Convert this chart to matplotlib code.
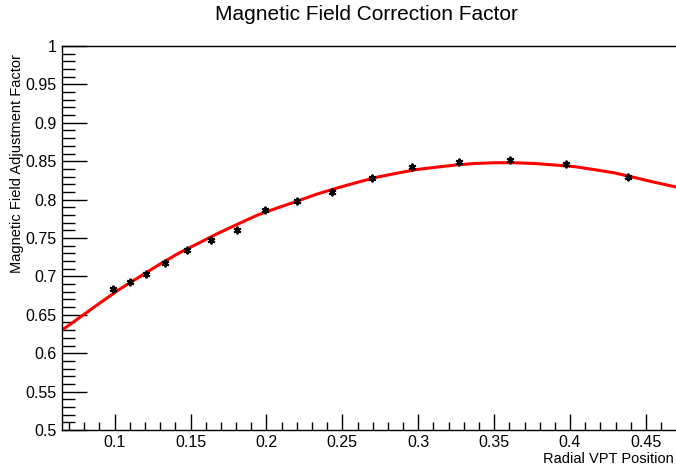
import numpy as np
import matplotlib.pyplot as plt
from matplotlib.ticker import MultipleLocator

plt.rcParams['font.family'] = ['Liberation Sans', 'DejaVu Sans']

# measured points
radial_pos = [0.0987, 0.1099, 0.1208, 0.1333, 0.1476, 0.1633, 0.1807, 0.1992,
              0.2201, 0.2430, 0.2693, 0.2961, 0.3269, 0.3602, 0.3972, 0.4383]
adj_factor = [0.683, 0.693, 0.703, 0.717, 0.735, 0.748, 0.761, 0.786,
              0.798, 0.810, 0.828, 0.842, 0.849, 0.852, 0.846, 0.829]

# fitted curve as drawn
fit_x = [0.0653, 0.078, 0.090, 0.103, 0.116, 0.129, 0.142, 0.155, 0.168,
         0.181, 0.1943, 0.207, 0.2203, 0.233, 0.2464, 0.259, 0.2724, 0.285,
         0.2985, 0.311, 0.3245, 0.337, 0.3506, 0.363, 0.3766, 0.390, 0.4027,
         0.416, 0.4287, 0.442, 0.4547, 0.4720]
fit_y = [0.630, 0.648, 0.665, 0.683, 0.699, 0.715, 0.730, 0.743, 0.756,
         0.768, 0.780, 0.789, 0.798, 0.807, 0.815, 0.822, 0.829, 0.834,
         0.839, 0.842, 0.845, 0.847, 0.848, 0.848, 0.847, 0.845, 0.843,
         0.839, 0.835, 0.829, 0.823, 0.8155]

W, H = 676, 470
fig = plt.figure(figsize=(W / 100, H / 100), dpi=100)
ax = fig.add_axes([62 / W, 40 / H, (W - 62) / W, 384 / H])

ax.plot(fit_x, fit_y, color='#ff0000', lw=2.2, zorder=2,
        solid_joinstyle='round')
ax.plot(radial_pos, adj_factor, ls='none', marker=(6, 2, 0), ms=5.5,
        mew=1.4, color='black', zorder=3)

ax.set_xlim(0.0653, 0.4698)
ax.set_ylim(0.5, 1.0)

ax.xaxis.set_major_locator(MultipleLocator(0.05))
ax.xaxis.set_minor_locator(MultipleLocator(0.01))
ax.yaxis.set_major_locator(MultipleLocator(0.05))
ax.yaxis.set_minor_locator(MultipleLocator(0.01))
ax.xaxis.set_major_formatter(plt.FuncFormatter(lambda v, p: f'{v:g}'))
ax.yaxis.set_major_formatter(plt.FuncFormatter(lambda v, p: f'{v:g}'))

ax.tick_params(axis='both', which='both', direction='in', labelsize=11.5,
               width=1, color='black')
ax.tick_params(axis='x', which='major', length=11.5, pad=3.5)
ax.tick_params(axis='x', which='minor', length=6)
ax.tick_params(axis='y', which='major', length=18, pad=4)
ax.tick_params(axis='y', which='minor', length=9)

ax.spines['right'].set_visible(False)
for s in ('left', 'top', 'bottom'):
    ax.spines[s].set_linewidth(1)

fig.text(366 / W, 1 - 14 / H, 'Magnetic Field Correction Factor',
         ha='center', va='center', fontsize=15)
fig.text(17 / W, 1 - 164 / H, 'Magnetic Field Adjustment Factor',
         ha='center', va='center', rotation=90, fontsize=10.5)
fig.text(674 / W, 1 - 459 / H, 'Radial VPT Position',
         ha='right', va='center', fontsize=10.5)

fig.savefig('out.png', dpi=100)
